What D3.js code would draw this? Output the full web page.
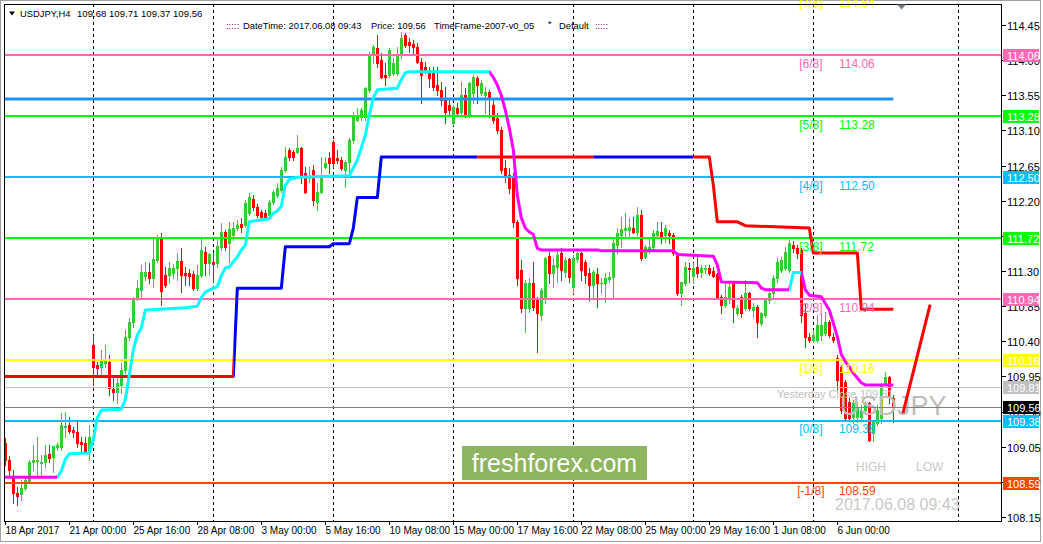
<!DOCTYPE html>
<html><head><meta charset="utf-8">
<script src="https://cdn.jsdelivr.net/npm/d3@7"></script>
<style>
body{margin:0;background:#fff}
svg{display:block}
text{font-family:"Liberation Sans",Arial,sans-serif}
</style>
</head><body>
<svg id="c" width="1043" height="544"></svg>
<script>
// ---------------- DATA ----------------
const symbol = "USDJPY,H4";
// OHLC for bars 1..223 (H4)
const opens = [
109.10,108.88,108.65,108.46,108.44,108.52,108.60,108.86,108.87,108.84,
108.86,108.96,108.92,109.05,109.05,109.30,109.33,109.27,109.24,109.11,
109.10,108.98,110.35,110.10,110.07,110.12,110.14,109.79,109.75,109.84,
110.03,110.46,110.65,110.96,111.06,111.23,111.29,111.21,111.44,111.71,
111.25,111.25,111.28,111.34,111.43,111.28,111.28,111.26,111.08,111.25,
111.54,111.40,111.42,111.40,111.61,111.80,111.66,111.76,111.85,111.90,
111.89,112.04,112.22,112.12,112.06,112.04,112.02,112.18,112.27,112.34,
112.59,112.85,112.82,112.82,112.88,112.55,112.49,112.59,112.18,112.31,
112.63,112.75,112.95,112.75,112.72,112.59,112.70,112.98,113.23,113.27,
113.27,113.62,114.07,114.16,114.00,113.81,113.81,113.84,113.84,114.07,
114.32,114.23,114.21,114.17,113.98,113.91,113.87,113.84,113.68,113.62,
113.49,113.43,113.20,113.39,113.34,113.55,113.30,113.58,113.77,113.58,
113.55,113.59,113.43,113.26,113.11,112.62,112.53,112.50,111.93,111.31,
110.83,110.83,111.15,110.96,110.74,110.97,111.49,111.28,111.35,111.53,
111.29,111.45,111.10,111.45,111.53,111.42,111.28,111.12,111.26,111.14,
111.15,111.20,111.22,111.63,111.76,111.83,111.83,111.85,111.80,112.02,
111.48,111.57,111.61,111.76,111.80,111.76,111.79,111.76,111.53,111.02,
111.15,111.34,111.24,111.35,111.29,111.33,111.34,111.30,111.26,110.97,
110.87,110.97,111.15,110.76,110.97,110.83,111.02,110.80,110.84,110.64,
110.74,110.93,111.02,111.21,111.31,111.34,111.31,111.63,111.60,111.57,
110.76,110.46,110.42,110.42,110.48,110.51,110.65,110.46,110.19,110.07,
109.88,109.62,109.43,109.43,109.43,109.52,109.61,109.23,109.36,109.42,
109.87,109.94,109.68];
const highs = [
109.16,108.93,108.75,108.54,108.63,108.66,108.88,109.07,109.18,108.95,
109.07,109.07,109.06,109.10,109.48,109.50,109.43,109.30,109.37,109.18,
109.18,109.33,110.48,110.14,110.29,110.35,110.23,109.93,109.93,110.12,
110.55,110.70,110.97,111.19,111.38,111.42,111.40,111.71,111.76,111.79,
111.35,111.42,111.39,111.53,111.60,111.35,111.33,111.30,111.38,111.72,
111.61,111.53,111.53,111.72,111.92,111.83,111.93,111.93,111.95,111.98,
112.21,112.30,112.27,112.16,112.08,112.08,112.21,112.34,112.43,112.63,
112.89,112.88,112.85,113.04,112.89,112.63,112.63,112.66,112.43,112.76,
112.76,112.82,112.98,112.85,112.76,112.72,113.00,113.34,113.39,113.39,
113.66,114.10,114.19,114.32,114.09,113.96,114.16,114.03,114.17,114.36,
114.35,114.28,114.26,114.22,114.03,113.98,113.91,113.91,113.91,113.72,
113.66,113.49,113.43,113.45,113.72,113.64,113.72,113.81,113.80,113.75,
113.66,113.62,113.49,113.32,113.14,112.72,112.62,112.56,111.95,111.44,
111.19,111.21,111.42,110.97,111.08,111.48,111.54,111.47,111.57,111.60,
111.48,111.47,111.51,111.54,111.54,111.44,111.34,111.31,111.34,111.21,
111.28,111.29,111.72,111.85,111.99,112.04,111.98,111.99,112.12,112.08,
111.63,111.72,111.83,111.93,111.93,111.89,111.83,111.79,111.54,111.16,
111.42,111.40,111.40,111.48,111.38,111.38,111.38,111.35,111.28,110.99,
111.15,111.16,111.16,110.87,110.99,111.19,111.03,110.89,110.87,110.78,
110.96,111.08,111.25,111.47,111.48,111.61,111.70,111.68,111.63,111.60,
110.89,110.51,110.55,110.74,110.76,110.78,110.67,110.51,110.23,110.10,
109.91,109.68,109.65,109.62,109.59,109.62,109.62,109.39,109.59,109.87,
110.01,109.96,109.71];
const lows = [
108.82,108.66,108.33,108.30,108.37,108.50,108.59,108.75,108.66,108.66,
108.79,108.86,108.73,109.01,109.01,109.18,109.23,109.18,109.05,108.98,
108.97,108.88,109.84,109.97,109.94,110.07,109.71,109.65,109.61,109.74,
109.99,110.42,110.58,110.93,110.97,111.19,111.15,111.10,111.42,110.87,
111.10,111.15,111.21,111.19,111.03,111.12,111.12,111.06,111.06,111.22,
111.25,111.25,111.16,111.35,111.57,111.57,111.42,111.70,111.83,111.80,
111.86,112.02,112.08,111.99,111.95,111.98,111.99,112.16,112.25,112.31,
112.57,112.72,112.72,112.81,112.43,112.30,112.44,112.15,112.08,112.30,
112.62,112.56,112.63,112.68,112.59,112.38,112.50,112.94,113.22,113.23,
113.23,113.59,113.96,113.91,113.77,113.68,113.78,113.81,113.81,114.03,
114.17,114.10,114.09,113.96,113.45,113.84,113.66,113.62,113.55,113.43,
113.20,113.30,113.17,113.30,113.30,113.27,113.27,113.45,113.45,113.55,
113.32,113.27,113.20,113.07,112.56,112.44,112.30,111.86,111.12,110.78,
110.52,110.78,110.80,110.26,110.67,110.89,111.15,111.10,111.16,111.19,
111.22,111.16,111.02,111.42,111.19,111.15,110.93,110.97,110.84,111.02,
110.90,111.16,110.97,111.53,111.61,111.74,111.74,111.79,111.76,111.44,
111.47,111.53,111.57,111.74,111.66,111.67,111.66,111.51,110.99,110.87,
111.12,111.16,111.15,111.22,111.22,111.28,111.25,111.22,110.96,110.76,
110.84,110.89,110.65,110.74,110.71,110.80,110.80,110.71,110.46,110.61,
110.71,110.89,110.97,111.16,111.29,111.31,111.29,111.54,111.47,110.65,
110.33,110.39,110.39,110.39,110.42,110.48,110.46,110.39,109.75,109.48,
109.39,109.39,109.36,109.37,109.39,109.48,109.12,109.12,109.33,109.36,
109.84,109.61,109.37];
const closes = [
108.88,108.75,108.46,108.42,108.52,108.63,108.86,108.88,108.88,108.86,
108.95,108.91,109.06,109.07,109.33,109.32,109.25,109.24,109.10,109.09,
108.98,109.18,110.07,110.06,110.16,110.15,109.80,109.75,109.87,110.03,
110.46,110.65,110.93,111.08,111.29,111.29,111.21,111.45,111.72,111.05,
111.12,111.34,111.34,111.43,111.25,111.25,111.24,111.08,111.25,111.57,
111.40,111.52,111.39,111.62,111.80,111.61,111.84,111.85,111.89,111.86,
112.17,112.25,112.12,112.02,111.99,111.99,112.18,112.31,112.36,112.59,
112.76,112.76,112.76,112.88,112.50,112.31,112.50,112.21,112.31,112.50,
112.68,112.68,112.68,112.72,112.62,112.70,112.98,113.27,113.27,113.36,
113.64,114.07,114.17,113.96,113.78,113.78,114.13,113.96,114.07,114.28,
114.19,114.19,114.17,113.98,113.81,113.87,113.77,113.66,113.62,113.49,
113.34,113.36,113.40,113.32,113.55,113.30,113.71,113.78,113.68,113.71,
113.59,113.52,113.23,113.11,112.59,112.50,112.36,111.93,111.21,110.83,
111.15,111.15,110.84,110.76,111.06,111.47,111.28,111.38,111.51,111.31,
111.44,111.22,111.47,111.53,111.31,111.25,111.12,111.29,111.15,111.15,
111.21,111.22,111.66,111.79,111.84,111.85,111.86,111.80,112.02,111.47,
111.61,111.61,111.79,111.81,111.72,111.85,111.76,111.53,111.02,111.16,
111.35,111.33,111.34,111.28,111.34,111.34,111.28,111.24,110.97,110.87,
110.97,111.10,110.84,110.83,110.76,111.02,110.83,110.84,110.65,110.76,
110.93,111.02,111.21,111.42,111.44,111.54,111.66,111.60,111.53,110.74,
110.46,110.42,110.48,110.61,110.61,110.65,110.48,110.42,109.91,109.52,
109.42,109.42,109.61,109.55,109.52,109.59,109.14,109.37,109.52,109.84,
109.94,109.69,109.56];

// Murrey Math levels
const murreyLabels = ["[-1/8]","[0/8]","[1/8]","[2/8]","[3/8]","[4/8]","[5/8]","[6/8]","[7/8]"];
const murreyValues = [108.59,109.38,110.16,110.94,111.72,112.50,113.28,114.06,114.84];
const murreyKinds  = ["m1","blue","yellow","pink","green","blue","green","pink","yellow"];

const yesterdayClose = 109.81;
const currentPrice = 109.56;
const resistanceValue = 113.50;        // long dodger-blue line, bars 0..223
const resistanceBars = [0, 223];

// Trailing stop (cyan = up, magenta = down)
const trailBars = [0,14,15,16,17,22,23,24,25,30,31,32,33,34,35,36,46,49,50,51,53,54,55,56,57,58,59,60,61,62,67,68,69,70,71,72,74,87,88,89,90,91,92,93,94,99,100,101,102,122,123,124,125,126,127,128,129,130,131,132,133,134,135,149,150,168,169,178,179,180,189,190,191,197,198,200,201,202,205,207,209,210,211,212,213,214,215,216,223];
const trailValues = [108.66,108.66,108.74,108.89,108.96,108.97,109.14,109.42,109.52,109.53,109.65,109.97,110.29,110.48,110.57,110.80,110.83,110.85,110.96,111.03,111.08,111.10,111.24,111.34,111.35,111.42,111.48,111.57,111.63,111.93,111.97,112.04,112.07,112.13,112.40,112.47,112.50,112.52,112.62,112.72,112.88,113.04,113.30,113.52,113.62,113.64,113.75,113.84,113.85,113.85,113.78,113.68,113.55,113.36,113.13,112.85,112.27,111.98,111.85,111.80,111.77,111.59,111.57,111.57,111.56,111.56,111.51,111.49,111.38,111.16,111.15,111.08,111.06,111.06,111.28,111.28,111.06,110.99,110.97,110.80,110.46,110.23,110.14,110.07,109.99,109.93,109.87,109.84,109.84];
const trailTrend = [[0,14,"down"],[14,122,"up"],[122,197,"down"],[197,200,"up"],[200,223,"down"]];

// Channel stop line (blue = up, red = down)
const channelBars = [0,58,59,70,71,82,83,87,88,89,94,95,177,178,179,184,186,202,203,214,215,223];
const channelValues = [109.95,109.95,111.08,111.08,111.61,111.61,111.65,111.65,111.85,112.24,112.24,112.76,112.76,112.40,111.93,111.93,111.88,111.85,111.53,111.53,110.81,110.81];
const channelTrend = [[0,58,"down"],[58,119,"up"],[119,148,"down"],[148,173,"up"],[173,223,"down"]];

// projection line
const projBars = [225.4, 232.2];
const projValues = [109.48, 110.87];

// vertical grid (bar positions)
const gridBars = [23,53,83,113,143,173,203,239.2];

// axes
const xLabelBars = [1,17,33,49,65,81,97,113,129,145,161,177,193,209];
const xLabelText = ["18 Apr 2017","21 Apr 00:00","25 Apr 16:00","28 Apr 08:00","3 May 00:00","5 May 16:00","10 May 08:00","15 May 00:00","17 May 16:00","22 May 08:00","25 May 00:00","29 May 16:00","1 Jun 08:00","6 Jun 00:00"];
const yTickValues = [108.15,108.60,109.05,109.50,109.95,110.40,110.85,111.30,111.75,112.20,112.65,113.10,113.55,114.00,114.45];

// ---------------- STYLE ----------------
const COL = {m1:"#FF4500", blue:"#00BFFF", yellow:"#FFFF00", pink:"#FF69B4", green:"#00FF00"};
const bull = "#32CD32", bear = "#FF0000";

// ---------------- DRAW ----------------
const svg = d3.select("#c");
const P = {l:4, t:4, r:1001, b:521};
const x = d3.scaleLinear().domain([0,250]).range([1.33,1001.33]);
const y = d3.scaleLinear().domain([108.15,114.45]).range([517,25]);
const px = k => Math.round(x(k));
const py = v => Math.round(y(v));

svg.append("rect").attr("width",1043).attr("height",544).attr("fill","#fff");
svg.append("rect").attr("x",0.5).attr("y",0.5).attr("width",1040).attr("height",541)
  .attr("fill","none").attr("stroke","#a0a0a0");

const defs = svg.append("defs");
defs.append("clipPath").attr("id","pc").append("rect")
  .attr("x",P.l+1).attr("y",P.t+1).attr("width",P.r-P.l-1).attr("height",P.b-P.t-1);

const plot = svg.append("g").attr("clip-path","url(#pc)");

// grid
plot.selectAll("line.grid").data(gridBars).join("line")
  .attr("x1",d=>px(d)+0.5).attr("x2",d=>px(d)+0.5).attr("y1",P.t).attr("y2",P.b)
  .attr("stroke","#000").attr("stroke-dasharray","3,3");

const txt = (g, s, xx, yy, size, fill, anchor) => g.append("text").attr("x",xx).attr("y",yy)
  .attr("font-size",size).attr("fill",fill).attr("text-anchor",anchor||"start").text(s);

// candles
const bars = d3.range(opens.length).map(i => ({k:i+1, o:opens[i], h:highs[i], l:lows[i], c:closes[i]}));
const cg = plot.append("g");
bars.forEach(b => {
  const cx = px(b.k);
  const col = b.c >= b.o ? bull : bear;
  cg.append("line").attr("x1",cx+0.5).attr("x2",cx+0.5)
    .attr("y1",py(b.h)).attr("y2",py(b.l)+1).attr("stroke",col);
  const top = Math.min(py(b.o),py(b.c)), bot = Math.max(py(b.o),py(b.c));
  cg.append("rect").attr("x",cx-1).attr("width",3).attr("y",top).attr("height",Math.max(1,bot-top+1)).attr("fill",col);
});

// chart objects (texts) drawn over the candles
txt(plot,"USDJPY", 840, 415, 27, "#BEBEBE");
txt(plot,"Yesterday Close " + yesterdayClose.toFixed(2), 777, 398, 11, "#C0C0C0");
txt(plot,"HIGH", 856, 471, 12, "#C8C8C8");
txt(plot,"LOW", 916, 471, 12, "#C8C8C8");
txt(plot,"2017.06.08 09:43", 835, 510, 16, "#C8C8C8");

// Murrey lines
murreyValues.forEach((v,i) => {
  plot.append("line").attr("x1",P.l).attr("x2",P.r).attr("y1",py(v)).attr("y2",py(v))
    .attr("stroke",COL[murreyKinds[i]]).attr("stroke-width",2);
});
plot.append("line").attr("x1",P.l).attr("x2",P.r).attr("y1",py(yesterdayClose)+0.5).attr("y2",py(yesterdayClose)+0.5).attr("stroke","#C0C0C0");
plot.append("line").attr("x1",P.l).attr("x2",P.r).attr("y1",py(currentPrice)+0.5).attr("y2",py(currentPrice)+0.5).attr("stroke","#808080");

// Murrey labels
const lblG = svg.append("g");
murreyValues.forEach((v,i) => {
  const yy = y(v) + 12.5;
  txt(lblG, murreyLabels[i], x(202.4), yy, 12, COL[murreyKinds[i]], "middle");
  txt(lblG, v.toFixed(2), x(209.4), yy, 12, COL[murreyKinds[i]]);
});

// resistance line
plot.append("line").attr("x1",x(resistanceBars[0])).attr("x2",x(resistanceBars[1]))
  .attr("y1",py(resistanceValue)).attr("y2",py(resistanceValue))
  .attr("stroke","#1E90FF").attr("stroke-width",3);

function segLine(bs, vs, trend, upCol, downCol, id){
  const line = d3.line().x(d=>x(d[0])).y(d=>y(d[1]));
  const pts = bs.map((b,i)=>[b,vs[i]]);
  trend.forEach((t,j) => {
    const cid = id + j;
    defs.append("clipPath").attr("id",cid).append("rect")
      .attr("x",x(t[0])).attr("y",0).attr("width",x(t[1])-x(t[0])+(j===trend.length-1?3:0)).attr("height",544);
    plot.append("g").attr("clip-path",`url(#${cid})`).append("path")
      .attr("d",line(pts)).attr("fill","none")
      .attr("stroke", t[2]==="up"?upCol:downCol).attr("stroke-width",3)
      .attr("stroke-linejoin","round");
  });
}
segLine(channelBars, channelValues, channelTrend, "#0000FF", "#FF0000", "ch");
segLine(trailBars, trailValues, trailTrend, "#00FFFF", "#FF00FF", "tr");

plot.append("line").attr("x1",x(projBars[0])).attr("y1",y(projValues[0]))
  .attr("x2",x(projBars[1])).attr("y2",y(projValues[1]))
  .attr("stroke","#FF0000").attr("stroke-width",3);

// plot frame
svg.append("rect").attr("x",P.l+0.5).attr("y",P.t+0.5).attr("width",P.r-P.l).attr("height",P.b-P.t)
  .attr("fill","none").attr("stroke","#000");

// right axis
const ra = svg.append("g");
yTickValues.forEach(v => {
  const yy = py(v)+0.5;
  ra.append("line").attr("x1",P.r+1).attr("x2",P.r+5).attr("y1",yy).attr("y2",yy).attr("stroke","#000");
  txt(ra, v.toFixed(2), 1007, yy+4, 11, "#000");
});
const boxVals = murreyValues.slice(0,8).map((v,i)=>({v, fill:COL[murreyKinds[i]]}))
  .concat([{v:yesterdayClose, fill:"#C0C0C0"},{v:currentPrice, fill:"#000"}]);
boxVals.forEach(b => {
  const yy = py(b.v);
  ra.append("rect").attr("x",1003).attr("y",yy-6).attr("width",36).attr("height",13).attr("fill",b.fill);
  txt(ra, b.v.toFixed(2), 1007, yy+4.5, 11, "#fff");
});

// bottom axis
const ba = svg.append("g");
xLabelBars.forEach((k,i) => {
  const xx = px(k)+0.5;
  ba.append("line").attr("x1",xx).attr("x2",xx).attr("y1",P.b).attr("y2",P.b+4).attr("stroke","#000");
  txt(ba, xLabelText[i], xx, 534, 10, "#000");
});

// header
svg.append("path").attr("d","M9,11.5 L15,11.5 L12,15.5 Z").attr("fill","#000");
txt(svg, symbol, 20, 16.5, 9.4, "#000");
txt(svg, [opens[222],highs[222],lows[222],closes[222]].map(v=>v.toFixed(2)).join(" "), 77, 16.5, 9.6, "#000");
txt(svg, ":::::", 226, 28.5, 9.4, "#800080");
txt(svg, "DateTime: 2017.06.08 09:43", 243, 28.5, 9.4, "#000");
txt(svg, "Price: " + currentPrice.toFixed(2), 371, 28.5, 9.3, "#000");
txt(svg, "TimeFrame-2007-v0_05", 434, 28.5, 9.4, "#000");
txt(svg, "*", 548, 27, 9.4, "#000");
txt(svg, "Default", 559, 28.5, 9.4, "#000");
txt(svg, ":::::", 595, 28.5, 9.4, "#800080");

// chart shift marker
svg.append("path").attr("d","M897,4.5 L906,4.5 L901.5,9.5 Z").attr("fill","#708090");

// freshforex logo
svg.append("rect").attr("x",462).attr("y",446).attr("width",185).attr("height",34).attr("fill","#8DB560");
txt(svg, "freshforex.com", 554.5, 471.5, 25, "#fff", "middle");
</script>
</body></html>
